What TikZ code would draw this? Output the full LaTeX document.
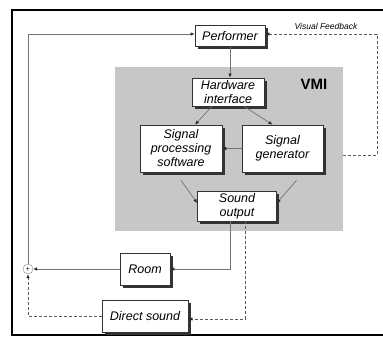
\documentclass[tikz,border=0pt]{standalone}
\usepackage{fontspec}
\setsansfont{Liberation Sans}
\usetikzlibrary{arrows.meta,positioning,calc,shadows}

\begin{document}
\begin{tikzpicture}[
  x=1pt, y=-1pt,
  font=\sffamily\itshape\fontsize{12.5}{14}\selectfont,
  box/.style={draw=black!80, fill=white, align=center, inner sep=1.5pt, line width=0.7pt,
    drop shadow={shadow xshift=2.5pt, shadow yshift=-2.5pt, fill=black!80, opacity=1}},
  arr/.style={-{Latex[length=4pt,width=3.5pt,color=black!85]}, draw=black!55, line width=0.7pt},
  darr/.style={arr, draw=black!65, dash pattern=on 3pt off 2pt}
]
\useasboundingbox (0,0) rectangle (383,338);
% frame
\draw[line width=1.8pt] (384,10) -- (12,10) -- (12,335) -- (384,335);
% VMI block
\node[fill=black!22, minimum width=228pt, minimum height=164pt, inner sep=0pt] (vmibox) at (229,149) {};
\node[font=\sffamily\bfseries\fontsize{15}{15}\selectfont] (vmi) at (314,84) {VMI};

\node[box, minimum width=70pt, minimum height=21pt] (perf) at (230,36) {Performer};
\node[box, minimum width=72pt, minimum height=28pt] (hw) at (228,92) {Hardware\\interface};
\node[box, minimum width=82pt, minimum height=47pt] (sps) at (181,148.5) {Signal\\processing\\software};
\node[box, minimum width=81pt, minimum height=47pt] (sg) at (282.5,148.5) {Signal\\generator};
\node[box, minimum width=79pt, minimum height=30pt] (so) at (237,206) {Sound\\output};
\node[box, minimum width=50pt, minimum height=32pt] (room) at (145,269) {Room};
\node[box, minimum width=86pt, minimum height=32pt] (direct) at (145,316) {Direct sound};
\node[draw=black!50, circle, inner sep=0pt, minimum size=10pt, font=\sffamily\fontsize{7}{7}\selectfont] (sum) at (28,269) {+};
\node[font=\sffamily\itshape\fontsize{8.5}{9}\selectfont] (vflabel) at (326,26) {Visual Feedback};

\draw[arr] (perf.south) -- (perf.south |- hw.north);
\draw[arr] ([xshift=-16pt]hw.south) -- ([xshift=14pt]sps.north);
\draw[arr] ([xshift=16pt]hw.south) -- ([xshift=-10pt]sg.north);
\draw[arr] (sg) -- (sps);
\draw[arr] ([yshift=-8pt]sps.south) -- ([yshift=3pt]so.west);
\draw[arr] ([xshift=14pt,yshift=-8pt]sg.south) -- ([yshift=3pt]so.east);
\draw[arr] ([xshift=-7pt]so.south) |- (room.east);
\draw[darr] ([xshift=8pt]so.south) |- ([yshift=-3pt]direct.east);
\draw[arr] (room) -- (sum);
\draw[darr] (direct.west) -| (sum.south);
\draw[arr] (sum.north) |- ([yshift=2pt]perf.west);
\draw[darr] ([yshift=-6pt]vmibox.east) -- ++(34,0) |- ([yshift=2pt]perf.east);
\end{tikzpicture}
\end{document}
